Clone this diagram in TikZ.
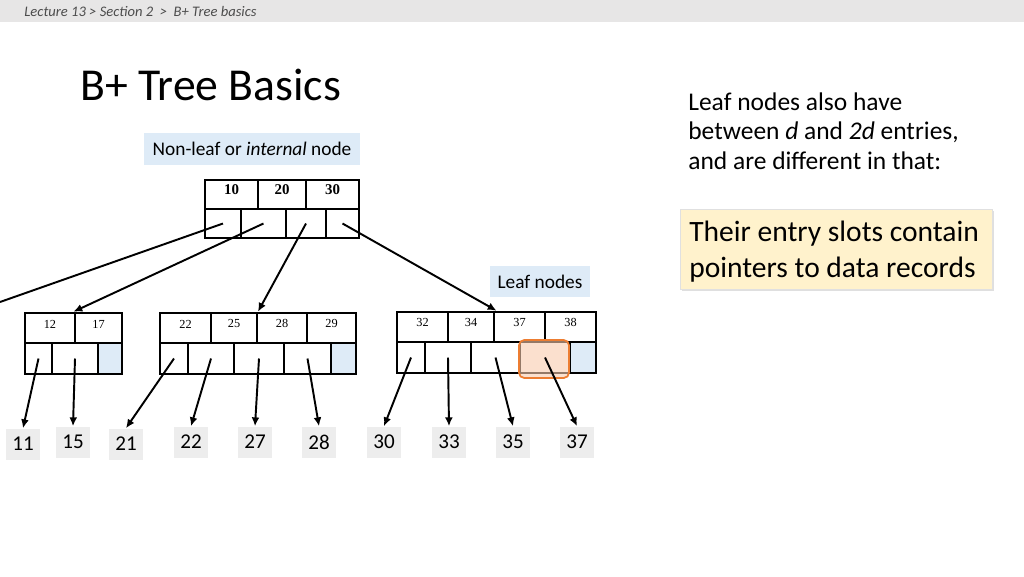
\documentclass[tikz,border=0pt]{standalone}
\usepackage{fontspec}
\setmainfont{Carlito}
\newfontfamily\keyfont{Liberation Serif}
\usetikzlibrary{fit, arrows.meta, shadows}
\definecolor{bargray}{HTML}{E7E6E6}
\definecolor{boxgray}{HTML}{EDEDED}
\definecolor{myblue}{HTML}{DEEBF7}
\definecolor{myyellow}{HTML}{FFF2CC}
\definecolor{myorange}{HTML}{ED7D31}
\definecolor{mypeach}{HTML}{F8CBAD}

\begin{document}
\begin{tikzpicture}[x=0.02cm, y=-0.02cm, >={Latex[length=5pt,width=4.5pt]}]
  \tikzstyle{cell}=[draw, line width=0.6pt, inner sep=0pt]
  \tikzstyle{rootkey}=[cell, font=\keyfont\bfseries\fontsize{8.5}{10}\selectfont]
  \tikzstyle{leafkey}=[cell, font=\keyfont\fontsize{7}{8}\selectfont]
  \tikzstyle{slot}=[cell]
  \tikzstyle{nextslot}=[cell, fill=myblue]
  \tikzstyle{frame}=[draw, line width=1.5pt, inner sep=0pt]
  \tikzstyle{record}=[fill=boxgray, minimum width=0.68cm, minimum height=0.62cm, inner sep=0pt, font=\fontsize{12}{14}\selectfont]
  \tikzstyle{tag}=[fill=myblue, inner sep=0pt, font=\fontsize{11}{13}\selectfont]
  \tikzstyle{ptr}=[->, line width=1.1pt]

  \useasboundingbox (0,0) rectangle (1024,576);
  \fill[bargray] (0,0) rectangle (1024,22);
  \node[anchor=west, inner sep=0pt, text=black!70, font=\itshape\fontsize{8.3}{10}\selectfont] (crumb) at (24,11) {Lecture 13 >~Section 2~~>~~B+ Tree basics};

  \node[anchor=base west, inner sep=0pt, font=\fontsize{26}{30}\selectfont] (title) at (80,100) {B+ Tree Basics};
  \node[anchor=north west, inner sep=0pt, align=left, font=\fontsize{14.5}{17}\selectfont] (note) at (688,92)
    {Leaf nodes also have\\ between \textit{d} and \textit{2d} entries,\\ and are different in that:};
  \node[anchor=north west, fill=myyellow, draw=black!12, drop shadow={opacity=0.25, shadow xshift=1pt, shadow yshift=-1pt},
    minimum width=6.24cm, minimum height=1.6cm, inner sep=0pt] (point) at (680,209) {};
  \node[anchor=west, inner sep=0pt, align=left, font=\fontsize{16.8}{20.4}\selectfont] (pointtext) at (689,252)
    {Their entry slots contain\\ pointers to data records};

  \node[tag, minimum width=4.32cm, minimum height=0.64cm] (innertag) at (252,149) {Non-leaf or \textit{internal} node};
  \node[tag, minimum width=2cm, minimum height=0.62cm] (leaftag) at (540,281.5) {Leaf nodes};

  % internal node
  \node[rootkey, fit={(205,180) (258,209)}] (r1) {10};
  \node[rootkey, fit={(258,180) (306,209)}] (r2) {20};
  \node[rootkey, fit={(306,180) (359,209)}] (r3) {30};
  \node[slot, fit={(205,209) (241,238)}] (rp1) {};
  \node[slot, fit={(241,209) (286,238)}] (rp2) {};
  \node[slot, fit={(286,209) (326,238)}] (rp3) {};
  \node[slot, fit={(326,209) (359,238)}] (rp4) {};
  \node[frame, fit={(205,180) (359,238)}] (root) {};

  % leaf nodes
  \node[leafkey, fit={(25,313) (75,343)}] (a1) {12};
  \node[leafkey, fit={(75,313) (122,343)}] (a2) {17};
  \node[slot, fit={(25,343) (52,374)}] (ap1) {};
  \node[slot, fit={(52,343) (98,374)}] (ap2) {};
  \node[nextslot, fit={(98,343) (122,374)}] (ap3) {};
  \node[frame, fit={(25,313) (122,374)}] (leafa) {};

  \node[leafkey, fit={(160,313) (211,343)}] (b1) {22};
  \node[leafkey, fit={(211,313) (257,343)}] (b2) {25};
  \node[leafkey, fit={(257,313) (307,343)}] (b3) {28};
  \node[leafkey, fit={(307,313) (356,343)}] (b4) {29};
  \node[slot, fit={(160,343) (188,374)}] (bp1) {};
  \node[slot, fit={(188,343) (234,374)}] (bp2) {};
  \node[slot, fit={(234,343) (284,374)}] (bp3) {};
  \node[slot, fit={(284,343) (331,374)}] (bp4) {};
  \node[nextslot, fit={(331,343) (356,374)}] (bp5) {};
  \node[frame, fit={(160,313) (356,374)}] (leafb) {};

  \node[leafkey, fit={(397,312) (448,342)}] (c1) {32};
  \node[leafkey, fit={(448,312) (494,342)}] (c2) {34};
  \node[leafkey, fit={(494,312) (545,342)}] (c3) {37};
  \node[leafkey, fit={(545,312) (596,342)}] (c4) {38};
  \node[slot, fit={(397,342) (425,373)}] (cp1) {};
  \node[slot, fit={(425,342) (471,373)}] (cp2) {};
  \node[slot, fit={(471,342) (520,373)}] (cp3) {};
  \node[slot, fit={(520,342) (570,373)}] (cp4) {};
  \node[nextslot, fit={(570,342) (596,373)}] (cp5) {};
  \node[frame, fit={(397,312) (596,373)}] (leafc) {};
  \node[draw=myorange, line width=1pt, fill=mypeach, fill opacity=0.6, rounded corners=3pt, inner sep=0pt,
    fit={(519,340) (569,378)}] (hl) {};

  % data records
  \node[record] (d11) at (23,444) {11};
  \node[record] (d15) at (73,442) {15};
  \node[record] (d21) at (126,444) {21};
  \node[record] (d22) at (191,442) {22};
  \node[record] (d27) at (255,442) {27};
  \node[record] (d28) at (319,442) {28};
  \node[record] (d30) at (384,442) {30};
  \node[record] (d33) at (449,442) {33};
  \node[record] (d35) at (513,442) {35};
  \node[record] (d37) at (577,442) {37};

  \coordinate (offleft) at (0,302);
  \draw[line width=1.1pt] (rp1.center) -- (offleft);
  \draw[ptr] (rp2.center) -- (leafa.north);
  \draw[ptr] (rp3.center) -- (leafb.north);
  \draw[ptr] (rp4.center) -- (leafc.north);

  \draw[ptr] (ap1.center) -- (d11.north);
  \draw[ptr] (ap2.center) -- (d15.north);
  \draw[ptr] (bp1.center) -- (d21.north);
  \draw[ptr] (bp2.center) -- (d22.north);
  \draw[ptr] (bp3.center) -- (d27.north);
  \draw[ptr] (bp4.center) -- (d28.north);
  \draw[ptr] (cp1.center) -- (d30.north);
  \draw[ptr] (cp2.center) -- (d33.north);
  \draw[ptr] (cp3.center) -- (d35.north);
  \draw[ptr] (cp4.center) -- (d37.north);
\end{tikzpicture}
\end{document}
